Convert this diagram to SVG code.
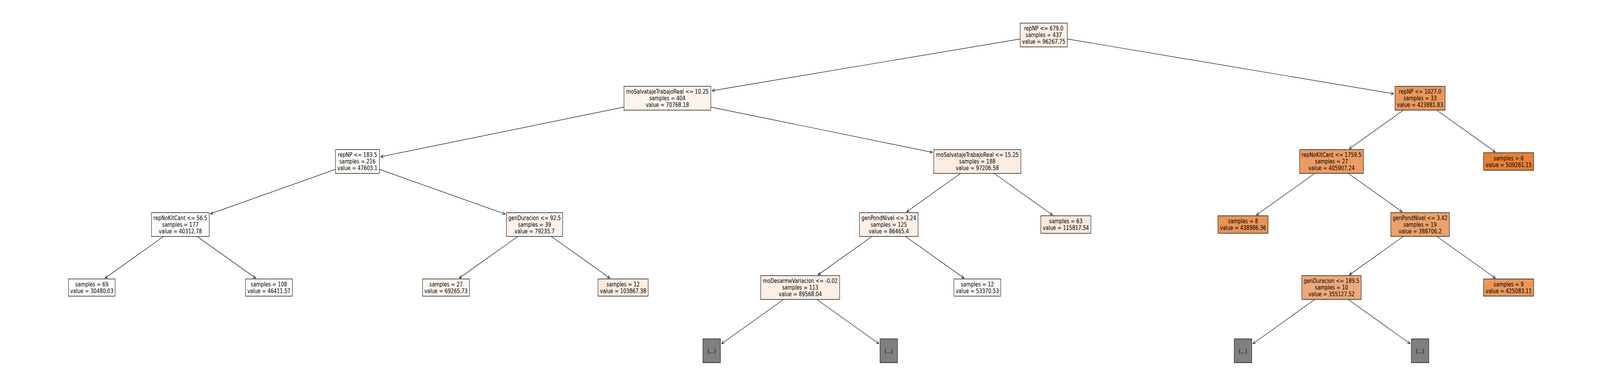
<svg xmlns="http://www.w3.org/2000/svg" width="5490" height="989" viewBox="0 0 5490 989" preserveAspectRatio="none" style="max-width:100vw">
<style>
.box{stroke:#000;stroke-width:1.3}
.t{font-family:"DejaVu Sans","Liberation Sans",sans-serif;font-size:16.5px;text-anchor:middle;fill:#000}
.e{stroke:#000;stroke-width:1.2;fill:none;marker-end:url(#ah)}
</style>
<defs>
<marker id="ah" markerUnits="userSpaceOnUse" viewBox="-12 -6 14 12" markerWidth="14" markerHeight="12" refX="0" refY="0" orient="auto" overflow="visible">
<path d="M-9.5,-4 L0,0 L-9.5,4" fill="none" stroke="#000" stroke-width="1.2"/>
</marker>
</defs>
<rect width="5490" height="989" fill="#fff"/>
<g id="connectors">
<line class="e" x1="3500.3" y1="99.9" x2="2443.5" y2="232.4"/>
<line class="e" x1="3662.3" y1="99.9" x2="4782.1" y2="240.35"/>
<line class="e" x1="2141" y1="274.4" x2="1306.4" y2="401.6"/>
<line class="e" x1="2439" y1="274.4" x2="3199.5" y2="390.3"/>
<line class="e" x1="4815.4" y1="282.2" x2="4630" y2="381.2"/>
<line class="e" x1="4929.8" y1="282.2" x2="5130.3" y2="389.2"/>
<line class="e" x1="1151" y1="433.9" x2="722.1" y2="547.8"/>
<line class="e" x1="1302" y1="433.9" x2="1733.35" y2="548.5"/>
<line class="e" x1="3296" y1="444.3" x2="3111" y2="542.7"/>
<line class="e" x1="3410.8" y1="444.3" x2="3610.9" y2="550.7"/>
<line class="e" x1="4511.4" y1="444.3" x2="4311.3" y2="550.7"/>
<line class="e" x1="4626.2" y1="444.3" x2="4811.3" y2="542.7"/>
<line class="e" x1="561.4" y1="605.8" x2="360.4" y2="712.6"/>
<line class="e" x1="676.2" y1="605.8" x2="877.3" y2="712.6"/>
<line class="e" x1="1776.8" y1="605.8" x2="1575.8" y2="712.6"/>
<line class="e" x1="1891.6" y1="605.8" x2="2092.6" y2="712.6"/>
<line class="e" x1="2992.2" y1="605.8" x2="2807.1" y2="704.1"/>
<line class="e" x1="3107" y1="605.8" x2="3308" y2="712.6"/>
<line class="e" x1="4815.2" y1="605.8" x2="4630.2" y2="704.1"/>
<line class="e" x1="4930" y1="605.8" x2="5131" y2="712.6"/>
<line class="e" x1="2688.5" y1="767.2" x2="2475.9" y2="880.7"/>
<line class="e" x1="2802.9" y1="767.2" x2="3015.6" y2="880.7"/>
<line class="e" x1="4511.6" y1="767.2" x2="4299" y2="880.7"/>
<line class="e" x1="4626" y1="767.2" x2="4838.6" y2="880.7"/>
</g>
<g id="n0"><rect class="box" x="3500.3" y="59.2" width="162" height="61" fill="#fbeee4"/>
<text class="t" x="3581.3" y="78.2">repNP &lt;= 679.0</text><text class="t" x="3581.3" y="95.2">samples = 437</text><text class="t" x="3581.3" y="112.2">value = 96267.75</text></g>
<g id="n1"><rect class="box" x="2141" y="221.2" width="298" height="61" fill="#fdf4ee"/>
<text class="t" x="2290" y="240.2">moSalvatajeTrabajoReal &lt;= 10.25</text><text class="t" x="2290" y="257.2">samples = 404</text><text class="t" x="2290" y="274.2">value = 70768.18</text></g>
<g id="n2"><rect class="box" x="4786.6" y="221.2" width="172" height="61" fill="#ea985c"/>
<text class="t" x="4872.6" y="240.2">repNP &lt;= 1027.0</text><text class="t" x="4872.6" y="257.2">samples = 33</text><text class="t" x="4872.6" y="274.2">value = 423881.83</text></g>
<g id="n3"><rect class="box" x="1151" y="383.3" width="151" height="61" fill="#fefbf8"/>
<text class="t" x="1226.5" y="402.3">repNP &lt;= 183.5</text><text class="t" x="1226.5" y="419.3">samples = 216</text><text class="t" x="1226.5" y="436.3">value = 47603.1</text></g>
<g id="n4"><rect class="box" x="3203.9" y="383.3" width="299" height="61" fill="#fbede3"/>
<text class="t" x="3353.4" y="402.3">moSalvatajeTrabajoReal &lt;= 15.25</text><text class="t" x="3353.4" y="419.3">samples = 188</text><text class="t" x="3353.4" y="436.3">value = 97206.58</text></g>
<g id="n5"><rect class="box" x="4459.3" y="383.3" width="219" height="61" fill="#eb9c64"/>
<text class="t" x="4568.8" y="402.3">repNoKitCant &lt;= 1759.5</text><text class="t" x="4568.8" y="419.3">samples = 27</text><text class="t" x="4568.8" y="436.3">value = 405907.24</text></g>
<g id="n6"><rect class="box" x="5090.4" y="391.3" width="172" height="45" fill="#e58139"/>
<text class="t" x="5176.4" y="410.8">samples = 6</text><text class="t" x="5176.4" y="427.8">value = 509261.15</text></g>
<g id="n7"><rect class="box" x="519.8" y="544.8" width="198" height="61" fill="#fefcfb"/>
<text class="t" x="618.8" y="563.8">repNoKitCant &lt;= 56.5</text><text class="t" x="618.8" y="580.8">samples = 177</text><text class="t" x="618.8" y="597.8">value = 40312.78</text></g>
<g id="n8"><rect class="box" x="1737.7" y="544.8" width="193" height="61" fill="#fcf2eb"/>
<text class="t" x="1834.2" y="563.8">genDuracion &lt;= 92.5</text><text class="t" x="1834.2" y="580.8">samples = 39</text><text class="t" x="1834.2" y="597.8">value = 79235.7</text></g>
<g id="n9"><rect class="box" x="2949.1" y="544.8" width="201" height="61" fill="#fcf0e8"/>
<text class="t" x="3049.6" y="563.8">genPondNivel &lt;= 3.24</text><text class="t" x="3049.6" y="580.8">samples = 125</text><text class="t" x="3049.6" y="597.8">value = 86465.4</text></g>
<g id="n10"><rect class="box" x="3571.2" y="552.8" width="172" height="45" fill="#fae8dc"/>
<text class="t" x="3657.2" y="572.3">samples = 63</text><text class="t" x="3657.2" y="589.3">value = 115817.54</text></g>
<g id="n11"><rect class="box" x="4179" y="552.8" width="172" height="45" fill="#e99456"/>
<text class="t" x="4265" y="572.3">samples = 8</text><text class="t" x="4265" y="589.3">value = 438986.36</text></g>
<g id="n12"><rect class="box" x="4772.1" y="544.8" width="201" height="61" fill="#eca16b"/>
<text class="t" x="4872.6" y="563.8">genPondNivel &lt;= 3.42</text><text class="t" x="4872.6" y="580.8">samples = 19</text><text class="t" x="4872.6" y="597.8">value = 388706.2</text></g>
<g id="n13"><rect class="box" x="235" y="714.7" width="160" height="44" fill="#ffffff"/>
<text class="t" x="315" y="733.7">samples = 69</text><text class="t" x="315" y="750.7">value = 30480.03</text></g>
<g id="n14"><rect class="box" x="842.2" y="714.7" width="161" height="44" fill="#fefbf8"/>
<text class="t" x="922.7" y="733.7">samples = 108</text><text class="t" x="922.7" y="750.7">value = 46411.57</text></g>
<g id="n15"><rect class="box" x="1449.9" y="714.7" width="161" height="44" fill="#fdf5ef"/>
<text class="t" x="1530.4" y="733.7">samples = 27</text><text class="t" x="1530.4" y="750.7">value = 69265.73</text></g>
<g id="n16"><rect class="box" x="2052" y="714.7" width="172" height="44" fill="#fbece1"/>
<text class="t" x="2138" y="733.7">samples = 12</text><text class="t" x="2138" y="750.7">value = 103867.38</text></g>
<g id="n17"><rect class="box" x="2610.2" y="706.2" width="271" height="61" fill="#fcefe7"/>
<text class="t" x="2745.7" y="725.2">moDesarmeVariacion &lt;= -0.02</text><text class="t" x="2745.7" y="742.2">samples = 113</text><text class="t" x="2745.7" y="759.2">value = 89568.04</text></g>
<g id="n18"><rect class="box" x="3272.9" y="714.7" width="161" height="44" fill="#fef9f6"/>
<text class="t" x="3353.4" y="733.7">samples = 12</text><text class="t" x="3353.4" y="750.7">value = 53370.53</text></g>
<g id="n19"><rect class="box" x="4466.8" y="706.2" width="204" height="61" fill="#eda979"/>
<text class="t" x="4568.8" y="725.2">genDuracion &lt;= 189.5</text><text class="t" x="4568.8" y="742.2">samples = 10</text><text class="t" x="4568.8" y="759.2">value = 355127.52</text></g>
<g id="n20"><rect class="box" x="5090.4" y="714.7" width="172" height="44" fill="#ea975c"/>
<text class="t" x="5176.4" y="733.7">samples = 9</text><text class="t" x="5176.4" y="750.7">value = 425083.11</text></g>
<g id="n21"><rect class="box" x="2411.9" y="868.3" width="60" height="61" fill="#808080"/><text class="t" x="2441.9" y="904.8">(...)</text></g>
<g id="n22"><rect class="box" x="3019.6" y="868.3" width="60" height="61" fill="#808080"/><text class="t" x="3049.6" y="904.8">(...)</text></g>
<g id="n23"><rect class="box" x="4235" y="868.3" width="60" height="61" fill="#808080"/><text class="t" x="4265" y="904.8">(...)</text></g>
<g id="n24"><rect class="box" x="4842.6" y="868.3" width="60" height="61" fill="#808080"/><text class="t" x="4872.6" y="904.8">(...)</text></g>
</svg>
